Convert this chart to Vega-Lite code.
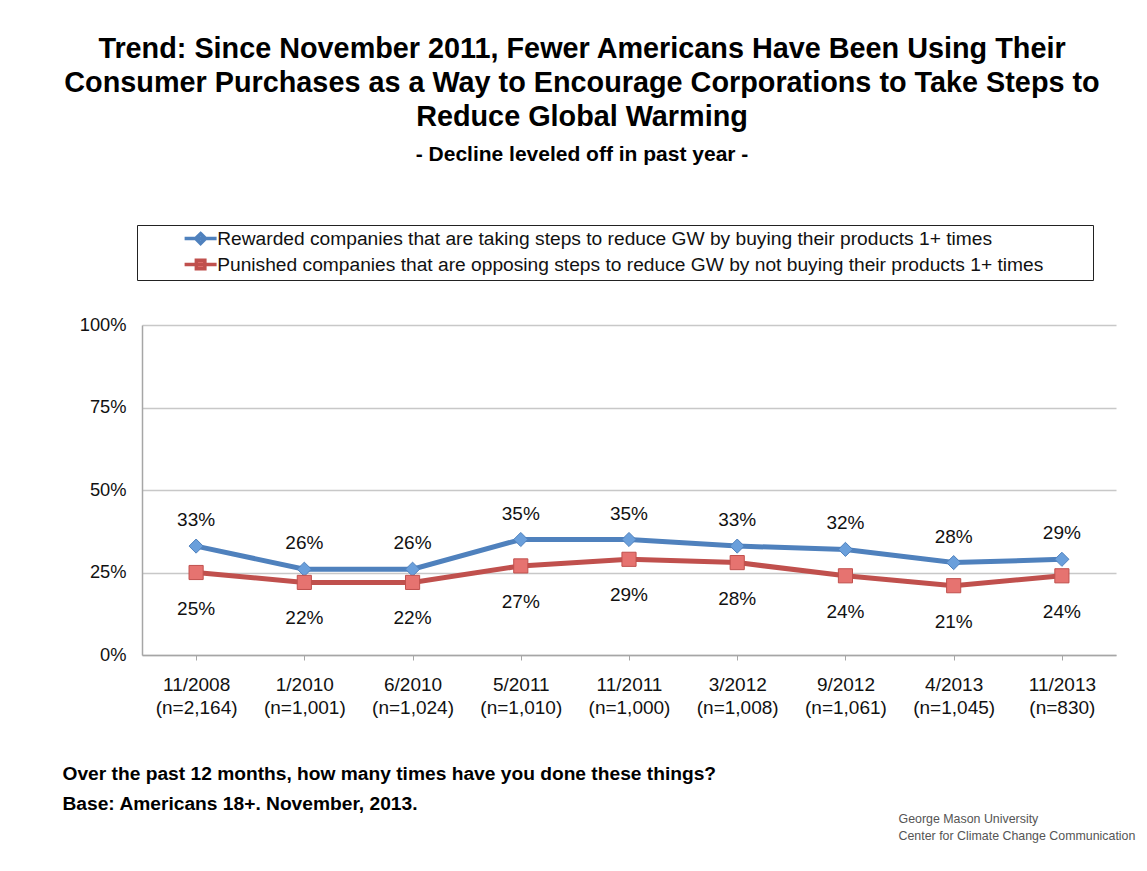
{
  "$schema": "https://vega.github.io/schema/vega-lite/v6.json",
  "width": 974,
  "height": 330,
  "autosize": {"type": "none"},
  "padding": {"left": 142, "top": 325, "right": 31, "bottom": 216},
  "background": "white",
  "config": {
    "view": {"stroke": null},
    "font": "Liberation Sans",
    "title": {"font": "Liberation Sans", "subtitleFont": "Liberation Sans"}
  },
  "title": {
    "text": ["Trend: Since November 2011, Fewer Americans Have Been Using Their", "Consumer Purchases as a Way to Encourage Corporations to Take Steps to", "Reduce Global Warming"],
    "subtitle": "- Decline leveled off in past year -",
    "anchor": "middle",
    "frame": "group",
    "dx": -47,
    "fontSize": 28.8,
    "fontWeight": "bold",
    "lineHeight": 34,
    "color": "#000000",
    "subtitleFontSize": 21,
    "subtitleFontWeight": "bold",
    "subtitleColor": "#000000",
    "subtitlePadding": 12,
    "offset": 60
  },
  "data": {
    "values": [
      {"wave": "11/2008\n(n=2,164)", "series": "Rewarded companies that are taking steps to reduce GW by buying their products 1+ times", "pct": 0.33},
      {"wave": "1/2010\n(n=1,001)", "series": "Rewarded companies that are taking steps to reduce GW by buying their products 1+ times", "pct": 0.26},
      {"wave": "6/2010\n(n=1,024)", "series": "Rewarded companies that are taking steps to reduce GW by buying their products 1+ times", "pct": 0.26},
      {"wave": "5/2011\n(n=1,010)", "series": "Rewarded companies that are taking steps to reduce GW by buying their products 1+ times", "pct": 0.35},
      {"wave": "11/2011\n(n=1,000)", "series": "Rewarded companies that are taking steps to reduce GW by buying their products 1+ times", "pct": 0.35},
      {"wave": "3/2012\n(n=1,008)", "series": "Rewarded companies that are taking steps to reduce GW by buying their products 1+ times", "pct": 0.33},
      {"wave": "9/2012\n(n=1,061)", "series": "Rewarded companies that are taking steps to reduce GW by buying their products 1+ times", "pct": 0.32},
      {"wave": "4/2013\n(n=1,045)", "series": "Rewarded companies that are taking steps to reduce GW by buying their products 1+ times", "pct": 0.28},
      {"wave": "11/2013\n(n=830)", "series": "Rewarded companies that are taking steps to reduce GW by buying their products 1+ times", "pct": 0.29},
      {"wave": "11/2008\n(n=2,164)", "series": "Punished companies that are opposing steps to reduce GW by not buying their products 1+ times", "pct": 0.25},
      {"wave": "1/2010\n(n=1,001)", "series": "Punished companies that are opposing steps to reduce GW by not buying their products 1+ times", "pct": 0.22},
      {"wave": "6/2010\n(n=1,024)", "series": "Punished companies that are opposing steps to reduce GW by not buying their products 1+ times", "pct": 0.22},
      {"wave": "5/2011\n(n=1,010)", "series": "Punished companies that are opposing steps to reduce GW by not buying their products 1+ times", "pct": 0.27},
      {"wave": "11/2011\n(n=1,000)", "series": "Punished companies that are opposing steps to reduce GW by not buying their products 1+ times", "pct": 0.29},
      {"wave": "3/2012\n(n=1,008)", "series": "Punished companies that are opposing steps to reduce GW by not buying their products 1+ times", "pct": 0.28},
      {"wave": "9/2012\n(n=1,061)", "series": "Punished companies that are opposing steps to reduce GW by not buying their products 1+ times", "pct": 0.24},
      {"wave": "4/2013\n(n=1,045)", "series": "Punished companies that are opposing steps to reduce GW by not buying their products 1+ times", "pct": 0.21},
      {"wave": "11/2013\n(n=830)", "series": "Punished companies that are opposing steps to reduce GW by not buying their products 1+ times", "pct": 0.24}
    ]
  },
  "encoding": {
    "x": {
      "field": "wave",
      "type": "nominal",
      "sort": null,
      "axis": {
        "labelAngle": 0,
        "labelExpr": "split(datum.value, '\\n')",
        "labelFontSize": 19,
        "labelColor": "#111111",
        "labelLineHeight": 23,
        "labelPadding": 15,
        "labelBaseline": "top",
        "domainColor": "#A6A6A6",
        "domainWidth": 1.5,
        "tickColor": "#A6A6A6",
        "tickSize": 5,
        "grid": false,
        "title": ["Over the past 12 months, how many times have you done these things?", "Base: Americans 18+. November, 2013."],
        "titleFontSize": 19.2,
        "titleFontWeight": "bold",
        "titleColor": "#000000",
        "titleAnchor": "start",
        "titleAlign": "left",
        "titleBaseline": "middle",
        "titleLineHeight": 30,
        "titleX": -80,
        "titleY": 118
      }
    },
    "y": {
      "field": "pct",
      "type": "quantitative",
      "scale": {"domain": [0, 1]},
      "axis": {
        "values": [0, 0.25, 0.5, 0.75, 1],
        "format": ".0%",
        "labelFontSize": 18.3,
        "labelColor": "#111111",
        "labelPadding": 16,
        "ticks": false,
        "domainColor": "#A6A6A6",
        "domainWidth": 1.5,
        "gridColor": "#C8C8C8",
        "gridWidth": 1.5,
        "title": ["George Mason University", "Center for Climate Change Communication"],
        "titleAngle": 0,
        "titleFontSize": 12.4,
        "titleFontWeight": "normal",
        "titleColor": "#555555",
        "titleAlign": "left",
        "titleBaseline": "middle",
        "titleLineHeight": 17,
        "titleX": 756,
        "titleY": 493
      }
    }
  },
  "resolve": {"legend": {"color": "independent", "shape": "independent", "fill": "independent", "stroke": "independent"}},
  "layer": [
    {
      "mark": {"type": "line", "strokeWidth": 5},
      "encoding": {
        "color": {
          "field": "series",
          "type": "nominal",
          "scale": {
            "domain": ["Rewarded companies that are taking steps to reduce GW by buying their products 1+ times", "Punished companies that are opposing steps to reduce GW by not buying their products 1+ times"],
            "range": ["#4F81BD", "#C0504D"]
          },
          "legend": {
            "orient": "none",
            "legendX": -5,
            "legendY": -100,
            "title": " ",
            "titleOrient": "right",
            "titlePadding": 46,
            "titleFontSize": 10,
            "direction": "vertical",
            "padding": 4,
            "strokeColor": "#222222",
            "fillColor": "white",
            "labelFontSize": 19.2,
            "labelColor": "#111111",
            "labelLimit": 2000,
            "rowPadding": 2,
            "symbolType": "M -3.2 0 L 3.2 0 M 0 -1 L 1 0 L 0 1 L -1 0 Z",
            "symbolSize": 100,
            "symbolStrokeWidth": 3.5,
            "symbolOffset": 50,
            "labelOffset": 7,
            "encode": {
              "symbols": {"update": {
                "shape": {"signal": "indexof(datum.value, 'Rewarded') === 0 ? 'M -3.2 0 L 3.2 0 M 0 -1 L 1 0 L 0 1 L -1 0 Z' : 'M -3.2 0 L 3.2 0 M -0.85 -0.85 L 0.85 -0.85 L 0.85 0.85 L -0.85 0.85 Z'"},
                "fill": {"signal": "indexof(datum.value, 'Rewarded') === 0 ? '#6A9FDB' : '#E67370'"},
                "fillOpacity": {"value": 1},
                "stroke": {"scale": "color", "field": "value"},
                "strokeOpacity": {"value": 1},
                "strokeWidth": {"value": 3.5}
              }}
            }
          }
        }
      }
    },
    {
      "mark": {"type": "point", "filled": true, "size": 200, "strokeWidth": 1, "opacity": 1},
      "encoding": {
        "shape": {
          "field": "series",
          "type": "nominal",
          "scale": {
            "domain": ["Rewarded companies that are taking steps to reduce GW by buying their products 1+ times", "Punished companies that are opposing steps to reduce GW by not buying their products 1+ times"],
            "range": ["diamond", "square"]
          },
          "legend": null
        },
        "fill": {
          "field": "series",
          "type": "nominal",
          "scale": {
            "domain": ["Rewarded companies that are taking steps to reduce GW by buying their products 1+ times", "Punished companies that are opposing steps to reduce GW by not buying their products 1+ times"],
            "range": ["#6A9FDB", "#E67370"]
          },
          "legend": null
        },
        "stroke": {
          "field": "series",
          "type": "nominal",
          "scale": {
            "domain": ["Rewarded companies that are taking steps to reduce GW by buying their products 1+ times", "Punished companies that are opposing steps to reduce GW by not buying their products 1+ times"],
            "range": ["#4F81BD", "#C0504D"]
          },
          "legend": null
        }
      }
    },
    {
      "transform": [{"filter": "indexof(datum.series, 'Rewarded') === 0"}],
      "mark": {"type": "text", "dy": -26, "fontSize": 19, "color": "#111111", "baseline": "middle"},
      "encoding": {"text": {"field": "pct", "type": "quantitative", "format": ".0%"}}
    },
    {
      "transform": [{"filter": "indexof(datum.series, 'Punished') === 0"}],
      "mark": {"type": "text", "dy": 36, "fontSize": 19, "color": "#111111", "baseline": "middle"},
      "encoding": {"text": {"field": "pct", "type": "quantitative", "format": ".0%"}}
    }
  ]
}
